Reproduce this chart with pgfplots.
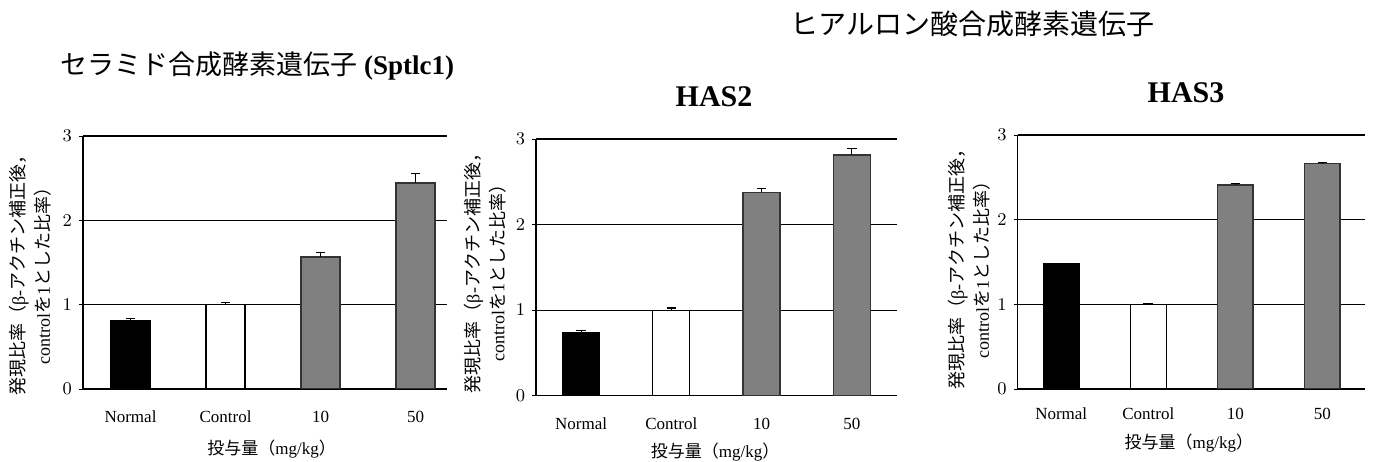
\documentclass[border=0pt]{standalone}
\usepackage{fontspec}
\setmainfont{Liberation Serif}
\newfontfamily\cjk{Noto Sans CJK JP}
\usepackage{pgfplots}
\pgfplotsset{compat=1.18}

\pgfplotsset{
  panel/.style={
    scale only axis,
    ybar, bar shift=0pt, bar width=0.41,
    ymin=0, ymax=3, ytick={0,1,2,3},
    xmin=-0.5, xmax=3.5,
    xtick={0,1,2,3}, xticklabels={Normal,Control,10,50},
    axis x line*=bottom, axis y line*=left,
    ymajorgrids, grid style={black, line width=0.6bp},
    axis line style={black, line width=0.6bp},
    x tick style={draw=none},
    y tick style={black, line width=0.5bp},
    tick align=outside, major tick length=2bp,
    tick label style={font=\fontsize{8.5bp}{10bp}\selectfont},
    yticklabel style={xshift=0bp},
    xticklabel style={yshift=-5.5bp},
    xlabel={{\cjk 投与量（}mg/kg{\cjk ）}},
    xlabel style={font=\fontsize{8.5bp}{10bp}\selectfont, anchor=center},
    ylabel={{\cjk 発現比率（}β-{\cjk アクチン補正後，}\\control{\cjk を}1{\cjk とした比率）}},
    ylabel style={font=\fontsize{9bp}{12.5bp}\selectfont, align=center, anchor=center},
    error bars/y dir=plus, error bars/y explicit,
    error bars/error mark=|,
    error bars/error bar style={black, line width=0.6bp},
    error bars/error mark options={black, mark size=2.4bp, line width=0.6bp},
  },
  blk/.style={fill=black, draw=black, line width=0.6bp},
  wht/.style={fill=white, draw=black, line width=0.6bp},
  gry/.style={fill=gray, draw=black!80, line width=0.8bp},
}

\begin{document}
\begin{tikzpicture}
\useasboundingbox (0,0) rectangle (688bp,231bp);

% titles
\node[anchor=west, inner sep=0pt, font=\fontsize{13.5bp}{16bp}\selectfont] at (30bp,198bp)
  {{\cjk セラミド合成酵素遺伝子} \textbf{(Sptlc1)}};
\node[anchor=west, inner sep=0pt, font=\fontsize{14bp}{16bp}\selectfont] at (395bp,219bp)
  {\cjk ヒアルロン酸合成酵素遺伝子};
\node[font=\bfseries\fontsize{15bp}{18bp}\selectfont] at (357bp,182.5bp) {HAS2};
\node[font=\bfseries\fontsize{15bp}{18bp}\selectfont] at (593bp,184.5bp) {HAS3};

% Sptlc1
\begin{axis}[panel, at={(41.5bp,36.5bp)}, anchor=south west,
  width=182bp, height=126.5bp, xmax=3.33,
  ylabel style={at={(axis description cs:-0.144,0.466)}},
  xlabel style={at={(axis description cs:0.518,0)}, yshift=-30bp}]
\addplot[blk] coordinates {(0,0.81) +- (0,0.03)};
\addplot[wht] coordinates {(1,1.00) +- (0,0.03)};
\addplot[gry] coordinates {(2,1.567) +- (0,0.048) (3,2.444) +- (0,0.116)};
\end{axis}

% HAS2
\begin{axis}[panel, at={(268bp,33.15bp)}, anchor=south west,
  width=180.5bp, height=128.35bp,
  ylabel style={at={(axis description cs:-0.141,0.494)}},
  xlabel style={at={(axis description cs:0.496,0)}, yshift=-28.2bp}]
\addplot[blk] coordinates {(0,0.733) +- (0,0.031)};
\addplot[wht] coordinates {(1,1.00) +- (0,0.025)};
\addplot[gry] coordinates {(2,2.376) +- (0,0.044) (3,2.81) +- (0,0.08)};
\end{axis}

% HAS3
\begin{axis}[panel, at={(508.85bp,36.5bp)}, anchor=south west,
  width=173.65bp, height=127bp, xmax=3.49,
  xticklabel style={yshift=1.5bp},
  ylabel style={at={(axis description cs:-0.139,0.488)}},
  xlabel style={at={(axis description cs:0.493,0)}, yshift=-27bp}]
\addplot[blk] coordinates {(0,1.484) +- (0,0)};
\addplot[wht] coordinates {(1,1.00) +- (0,0.004)};
\addplot[gry] coordinates {(2,2.412) +- (0,0.013) (3,2.665) +- (0,0.01)};
\end{axis}
\end{tikzpicture}
\end{document}
